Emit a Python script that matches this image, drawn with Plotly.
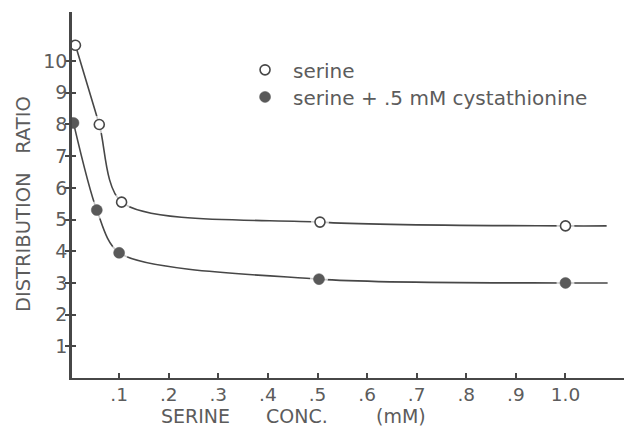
import plotly.graph_objects as go

# Serine alone
serine_x = [0.012, 0.06, 0.105, 0.505, 1.0]
serine_y = [10.5, 8.0, 5.55, 4.92, 4.8]
# Serine + 0.5 mM cystathionine
cyst_x = [0.008, 0.055, 0.10, 0.503, 1.0]
cyst_y = [8.05, 5.3, 3.95, 3.12, 3.0]
# Where each hand-drawn curve runs out past the last point
serine_curve_end = (1.083, 4.8)
cyst_curve_end = (1.085, 3.0)

x_tickvals = [0.1, 0.2, 0.3, 0.4, 0.5, 0.6, 0.7, 0.8, 0.9, 1.0]
x_ticktext = [".1", ".2", ".3", ".4", ".5", ".6", ".7", ".8", ".9", "1.0"]
y_tickvals = [1, 2, 3, 4, 5, 6, 7, 8, 9, 10]

legend_names = ["serine", "serine + .5 mM cystathionine"]
x_title_words = ["SERINE", "CONC.", "(mM)"]
y_title = "DISTRIBUTION\u00a0\u00a0\u00a0RATIO"

INK = "#474747"
TEXT = "#5c5c5c"
FONT = "DejaVu Sans"

fig = go.Figure()


def halo_sizes(xs):
    # white ring that opens a gap in the curve around each marker
    return [0 if x < 0.03 else 18 for x in xs]


for xs, ys, end in [(serine_x, serine_y, serine_curve_end),
                    (cyst_x, cyst_y, cyst_curve_end)]:
    fig.add_trace(go.Scatter(
        x=xs + [end[0]], y=ys + [end[1]], mode="lines",
        line=dict(color=INK, width=1.6, shape="spline", smoothing=0.8),
        showlegend=False, hoverinfo="skip"))

for xs, ys in [(serine_x, serine_y), (cyst_x, cyst_y)]:
    fig.add_trace(go.Scatter(
        x=xs, y=ys, mode="markers",
        marker=dict(size=halo_sizes(xs), color="white", line=dict(width=0)),
        showlegend=False, hoverinfo="skip"))

fig.add_trace(go.Scatter(
    x=serine_x, y=serine_y, mode="markers", name=legend_names[0],
    legend="legend",
    marker=dict(symbol="circle", size=10, color="white",
                line=dict(color=INK, width=1.6))))
fig.add_trace(go.Scatter(
    x=cyst_x, y=cyst_y, mode="markers", name=legend_names[1],
    legend="legend2",
    marker=dict(symbol="circle", size=11, color="#595959",
                line=dict(color="#595959", width=0.5))))

# empty trace so the inner half of the y ticks is drawn
fig.add_trace(go.Scatter(x=[None], y=[None], yaxis="y2", showlegend=False))

legend_style = dict(xanchor="left", yanchor="middle",
                    bgcolor="rgba(0,0,0,0)", font=dict(size=20, color=TEXT),
                    itemwidth=46)

# x-axis title, one word at a time so the wide spacing is kept
x_title_pos = [0.2245, 0.4075, 0.5955]
annotations = [
    dict(text=w, xref="paper", yref="paper", x=p, y=-0.104,
         xanchor="center", yanchor="middle", showarrow=False,
         font=dict(size=19, color=TEXT))
    for w, p in zip(x_title_words, x_title_pos)
]
annotations.append(
    dict(text=y_title, xref="paper", yref="paper", x=-0.089, y=0.475,
         xanchor="center", yanchor="middle", textangle=-90,
         showarrow=False, font=dict(size=19.5, color=TEXT)))

fig.update_layout(
    width=624, height=427,
    margin=dict(l=72, r=0, t=12, b=49),
    paper_bgcolor="white", plot_bgcolor="white",
    font=dict(family=FONT, color=TEXT, size=19),
    xaxis=dict(range=[0.005, 1.118], showgrid=False, zeroline=False,
               showline=True, linecolor=INK, linewidth=2.2,
               tickvals=x_tickvals, ticktext=x_ticktext,
               ticks="inside", ticklen=5, tickwidth=1.5, tickcolor=INK,
               tickfont=dict(size=18.5, color=TEXT), ticklabelstandoff=-1,
               layer="below traces"),
    yaxis=dict(range=[0, 11.55], showgrid=False, zeroline=False,
               showline=True, linecolor=INK, linewidth=2.6,
               tickvals=y_tickvals, ticks="outside", ticklen=4,
               tickwidth=1.5, tickcolor=INK,
               tickfont=dict(size=19, color=TEXT), ticklabelstandoff=-6,
               layer="below traces"),
    yaxis2=dict(range=[0, 11.55], overlaying="y", anchor="x", side="left",
                showgrid=False, zeroline=False, showline=False,
                tickvals=y_tickvals, ticks="inside", ticklen=4,
                tickwidth=1.5, tickcolor=INK, showticklabels=False,
                layer="below traces"),
    legend=dict(x=0.299, y=0.842, **legend_style),
    legend2=dict(x=0.299, y=0.768, **legend_style),
    annotations=annotations,
)

fig.write_html("out.html")
